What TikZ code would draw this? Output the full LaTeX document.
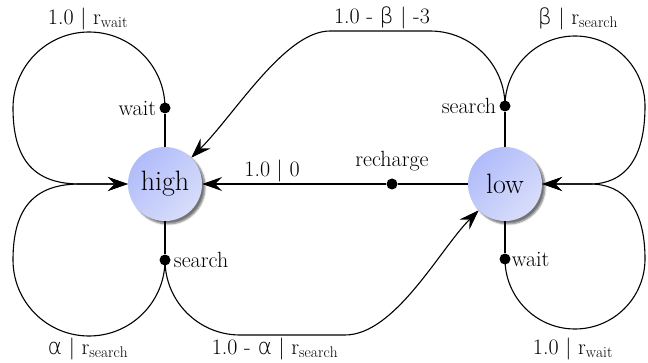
\RequirePackage{fix-cm}
\documentclass[tikz,border=0pt]{standalone}
\usepackage{fontspec}
\newfontfamily\grk{DejaVu Sans ExtraLight}
\usetikzlibrary{arrows.meta,shadows.blur}
\definecolor{stateA}{RGB}{176,188,250}
\definecolor{stateB}{RGB}{216,221,250}
\newcommand{\rew}[1]{$\mathrm{r}_{\mathrm{#1}}$}
\newcommand{\ga}{{\grk α}}
\newcommand{\gb}{{\grk β}}
\begin{document}
\begin{tikzpicture}[x=1pt,y=1pt,
  state/.style={circle, minimum size=74pt, inner sep=0pt,
    top color=stateA, bottom color=stateB, shading angle=45,
    blur shadow={shadow xshift=3pt, shadow yshift=-3pt, shadow blur steps=6, shadow opacity=55},
    font=\fontsize{28}{32}\selectfont},
  dot/.style={circle, fill=black, minimum size=11pt, inner sep=0pt},
  lbl/.style={font=\fontsize{22}{26}\selectfont, inner sep=1pt},
  edge/.style={line width=1.1pt},
  arr/.style={edge, -{Stealth[length=20pt,width=14pt,inset=7pt]}}]
\useasboundingbox (0,0) rectangle (648,362);

% states
\node[state] (high) at (165,178) {high};
\node[state] (low)  at (505,178) {low};

% action points
\node[dot] (hw) at (165,254) {};
\node[dot] (hs) at (165,102) {};
\node[dot] (ls) at (505,256) {};
\node[dot] (lw) at (505,103) {};
\node[dot] (rc) at (392,178) {};

\node[lbl, anchor=east] at ([xshift=-2pt]hw.west) {wait};
\node[lbl, anchor=west] at ([xshift=2pt]hs.east) {search};
\node[lbl, anchor=east] at ([xshift=-2pt]ls.west) {search};
\node[lbl, anchor=west] at (lw.east) {wait};
\node[lbl] at (392,201) {recharge};

% state to action
\draw[edge] (high) -- (hw);
\draw[edge] (high) -- (hs);
\draw[edge] (low) -- (ls);
\draw[edge] (low) -- (lw);
\draw[edge] (low) -- (rc);
\draw[arr] (rc) -- (high);

% junction points of the self loops
\coordinate (hj) at (80,178);
\coordinate (lj) at (590,178);

% transitions from high
\draw[arr] (hw.center) arc[start angle=0, end angle=180, radius=76]
  .. controls (13,200) and (36,178) .. (hj) -- (high.west);
\draw[arr] (hs.center) arc[start angle=0, end angle=-180, radius=76]
  .. controls (13,156) and (36,178) .. (hj) -- (high.west);
\draw[arr] (hs.center) arc[start angle=180, end angle=270, radius=75]
  -- (345,27) .. controls (395,27) and (440,113) .. (low.south west);

% transitions from low
\draw[arr] (ls.center) arc[start angle=180, end angle=0, radius=70]
  .. controls (645,202) and (624,178) .. (lj) -- (low.east);
\draw[arr] (lw.center) arc[start angle=180, end angle=360, radius=70]
  .. controls (645,154) and (624,178) .. (lj) -- (low.east);
\draw[arr] (ls.center) arc[start angle=0, end angle=90, radius=75]
  -- (330,331) .. controls (285,331) and (235,248) .. (high.north east);

% transition labels
\node[lbl] at (88,343) {1.0 $|$ \rew{wait}};
\node[lbl] at (578,343) {\gb{} $|$ \rew{search}};
\node[lbl] at (382,344) {1.0 - \gb{} $|$ -3};
\node[lbl] at (272,191) {1.0 $|$ 0};
\node[lbl] at (88,13) {\ga{} $|$ \rew{search}};
\node[lbl] at (275,13) {1.0 - \ga{} $|$ \rew{search}};
\node[lbl] at (573,13) {1.0 $|$ \rew{wait}};
\end{tikzpicture}
\end{document}
